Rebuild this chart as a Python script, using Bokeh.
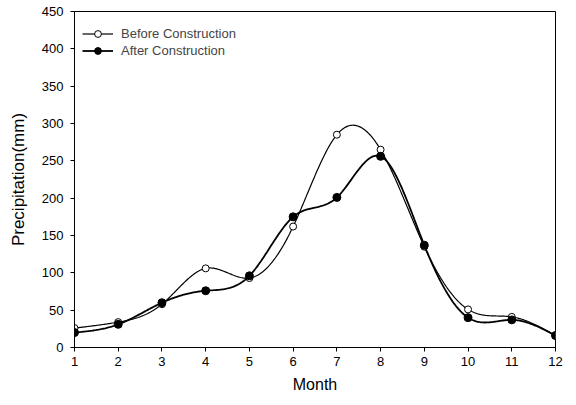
import numpy as np
from bokeh.plotting import figure
from bokeh.embed import file_html
from bokeh.resources import INLINE
from bokeh.models import FixedTicker, Range1d

months = [1, 2, 3, 4, 5, 6, 7, 8, 9, 10, 11, 12]
before = [26, 34, 58, 106, 93, 162, 285, 265, 135, 51, 41, 16]
after = [20, 31, 60, 76, 96, 175, 201, 256, 137, 40, 37, 16]
x_ticks = months
y_ticks = [0, 50, 100, 150, 200, 250, 300, 350, 400, 450]


def natural_spline(x, y, n=40):
    x = np.asarray(x, float)
    y = np.asarray(y, float)
    k = len(x)
    h = np.diff(x)
    A = np.zeros((k, k))
    r = np.zeros(k)
    A[0, 0] = A[-1, -1] = 1
    for i in range(1, k - 1):
        A[i, i - 1] = h[i - 1]
        A[i, i] = 2 * (h[i - 1] + h[i])
        A[i, i + 1] = h[i]
        r[i] = 3 * ((y[i + 1] - y[i]) / h[i] - (y[i] - y[i - 1]) / h[i - 1])
    c = np.linalg.solve(A, r)
    xs, ys = [], []
    for i in range(k - 1):
        b = (y[i + 1] - y[i]) / h[i] - h[i] * (2 * c[i] + c[i + 1]) / 3
        d = (c[i + 1] - c[i]) / (3 * h[i])
        t = np.linspace(0, h[i], n, endpoint=(i == k - 2))
        xs.extend(x[i] + t)
        ys.extend(y[i] + b * t + c[i] * t ** 2 + d * t ** 3)
    return xs, ys


p = figure(width=568, height=397, output_backend="svg", toolbar_location=None,
           x_range=Range1d(1, 12), y_range=Range1d(0, 450),
           min_border_left=74, min_border_right=13, min_border_top=11, min_border_bottom=50)
p.xgrid.visible = False
p.ygrid.visible = False
p.outline_line_color = "black"
p.outline_line_width = 1

bx, by = natural_spline(months, before)
ax, ay = natural_spline(months, after)
p.line(bx, by, line_color="black", line_width=1.2, legend_label="Before Construction")
p.scatter(months, before, size=7, marker="circle", fill_color="white", line_color="black",
          line_width=1, legend_label="Before Construction")
p.line(ax, ay, line_color="black", line_width=1.8, legend_label="After Construction")
p.scatter(months, after, size=8, marker="circle", fill_color="black", line_color="black",
          legend_label="After Construction")

for ax_ in (p.xaxis[0], p.yaxis[0]):
    ax_.major_tick_out = 4
    ax_.major_tick_in = 0
    ax_.minor_tick_out = 0
    ax_.minor_tick_in = 0
    ax_.axis_line_color = "black"
    ax_.major_label_text_font = "Liberation Sans"
    ax_.major_label_text_font_size = "13px"
    ax_.major_label_text_color = "black"
    ax_.axis_label_text_font = "Liberation Sans"
    ax_.axis_label_text_font_style = "normal"
    ax_.axis_label_text_color = "black"
p.xaxis.axis_label_text_font_size = "16px"
p.yaxis.axis_label_text_font_size = "17px"
p.xaxis.ticker = FixedTicker(ticks=x_ticks)
p.yaxis.ticker = FixedTicker(ticks=y_ticks)
p.xaxis.axis_label = "Month"
p.yaxis.axis_label = "Precipitation(mm)"
p.xaxis.major_label_standoff = 5
p.xaxis.axis_label_standoff = 7
p.yaxis.major_label_standoff = 7
p.yaxis.axis_label_standoff = 11

p.legend.location = (8, 288)
p.legend.border_line_color = None
p.legend.background_fill_alpha = 0
p.legend.label_text_font = "Liberation Sans"
p.legend.label_text_font_size = "13px"
p.legend.glyph_width = 31
p.legend.glyph_height = 17
p.legend.label_height = 17
p.legend.spacing = 0
p.legend.padding = 0
p.legend.margin = 0
p.legend.label_standoff = 8

open("out.html", "w").write(file_html(p, INLINE))
